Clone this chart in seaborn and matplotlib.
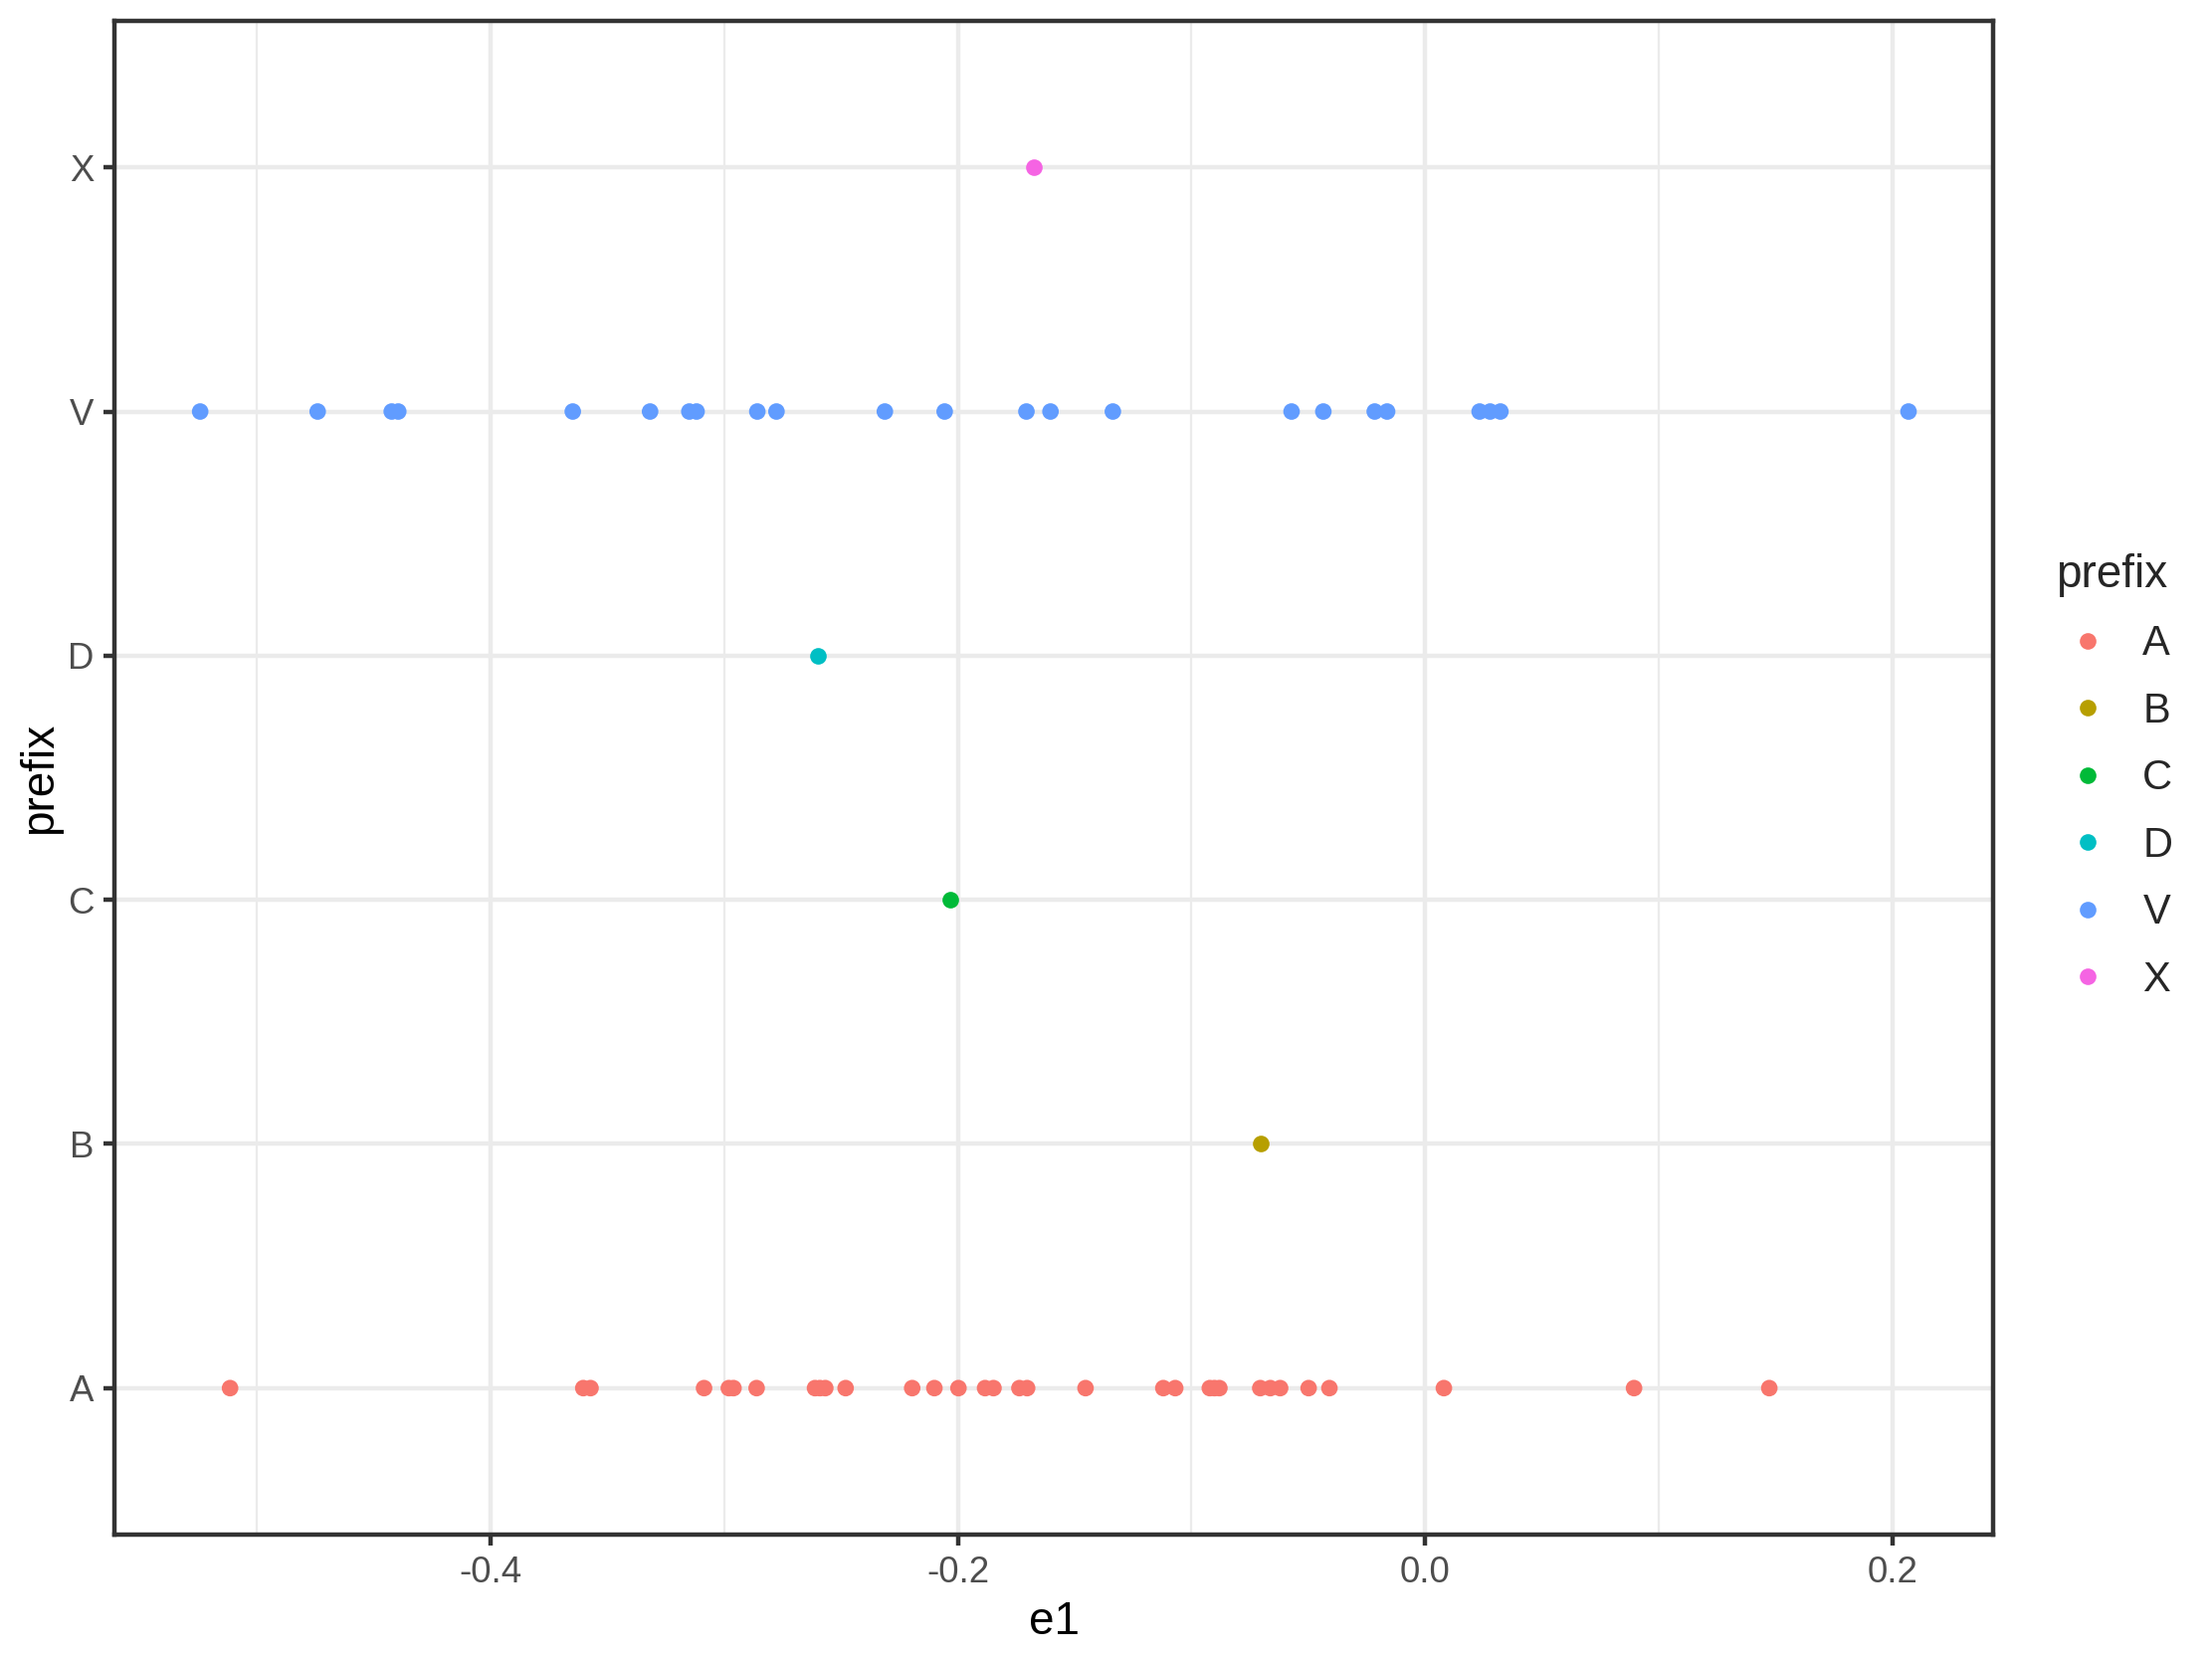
import numpy as np
import pandas as pd
import matplotlib
matplotlib.use("Agg")
import matplotlib.pyplot as plt
import seaborn as sns

# values
levels = ["A", "B", "C", "D", "V", "X"]
colors = ["#F8766D", "#B79F00", "#00BA38", "#00BFC4", "#619CFF", "#F564E3"]

e1_A = [-0.5115, -0.3603, -0.3572, -0.3086, -0.2980, -0.2960, -0.2861,
        -0.2611, -0.2590, -0.2567, -0.2480, -0.2195, -0.2100, -0.1997,
        -0.1883, -0.1847, -0.1736, -0.1703, -0.1453, -0.1120, -0.1069,
        -0.0921, -0.0901, -0.0880, -0.0705, -0.0662, -0.0620, -0.0498,
        -0.0409, 0.0081, 0.0895, 0.1474]
e1_B = [-0.0704]
e1_C = [-0.2032]
e1_D = [-0.2600]
e1_V = [-0.5243, -0.4740, -0.4423, -0.4395, -0.3648, -0.3317, -0.3149,
        -0.3118, -0.2858, -0.2776, -0.2312, -0.2056, -0.1706, -0.1603,
        -0.1336, -0.0571, -0.0435, -0.0215, -0.0162, 0.0234, 0.0279,
        0.0323, 0.2070]
e1_X = [-0.1673]

x_ticks = [-0.4, -0.2, 0.0, 0.2]
x_minor = [-0.5, -0.3, -0.1, 0.1]

groups = [e1_A, e1_B, e1_C, e1_D, e1_V, e1_X]
df = pd.DataFrame({
    "e1": np.concatenate(groups),
    "prefix": np.repeat(levels, [len(g) for g in groups]),
})

sns.set_theme(style="white")
plt.rcParams["font.family"] = ["Liberation Sans", "DejaVu Sans"]

fig = plt.figure(figsize=(2223 / 300, 1667 / 300), dpi=300)
ax = fig.add_axes([115 / 2223, 1 - 1542 / 1667, (2003 - 115) / 2223, (1542 - 21) / 1667])

grid_col = "#EBEBEB"
for v in x_minor:
    ax.axvline(v, color=grid_col, lw=0.55, zorder=0)
for v in x_ticks:
    ax.axvline(v, color=grid_col, lw=1.07, zorder=0)
for i in range(len(levels)):
    ax.axhline(i, color=grid_col, lw=1.07, zorder=0)

sns.stripplot(data=df, x="e1", y="prefix", hue="prefix", order=levels,
              hue_order=levels, palette=colors, jitter=False, size=4.0,
              linewidth=0, ax=ax, legend=False, zorder=3)

ax.set_xlim(-0.561, 0.2432)
ax.set_ylim(-0.6, len(levels) - 0.4)
ax.set_xticks(x_ticks)
ax.set_xticklabels(["-0.4", "-0.2", "0.0", "0.2"])
ax.set_yticks(range(len(levels)))
ax.set_yticklabels(levels)
ax.tick_params(axis="both", length=2.75, width=1.07, color="#333333",
               labelsize=8.8, labelcolor="#4D4D4D", pad=2.2,
               bottom=True, left=True)
for s in ax.spines.values():
    s.set_color("#333333")
    s.set_linewidth(1.07)
ax.set_xlabel("e1", fontsize=11, color="black", labelpad=2.5)
ax.set_ylabel("prefix", fontsize=11, color="black", labelpad=1.5)
ax.grid(False)

handles = [plt.Line2D([], [], marker="o", linestyle="", markersize=4.0,
                      markerfacecolor=c, markeredgewidth=0) for c in colors]
leg = fig.legend(handles, levels, title="prefix", loc="upper left",
                 bbox_to_anchor=(2045 / 2223, 1 - 535 / 1667), frameon=False,
                 fontsize=10, title_fontsize=11, labelspacing=0.66,
                 handletextpad=0.56, handlelength=1.54, borderpad=0)
leg._legend_box.align = "left"

fig.savefig("out.png", dpi=300)
